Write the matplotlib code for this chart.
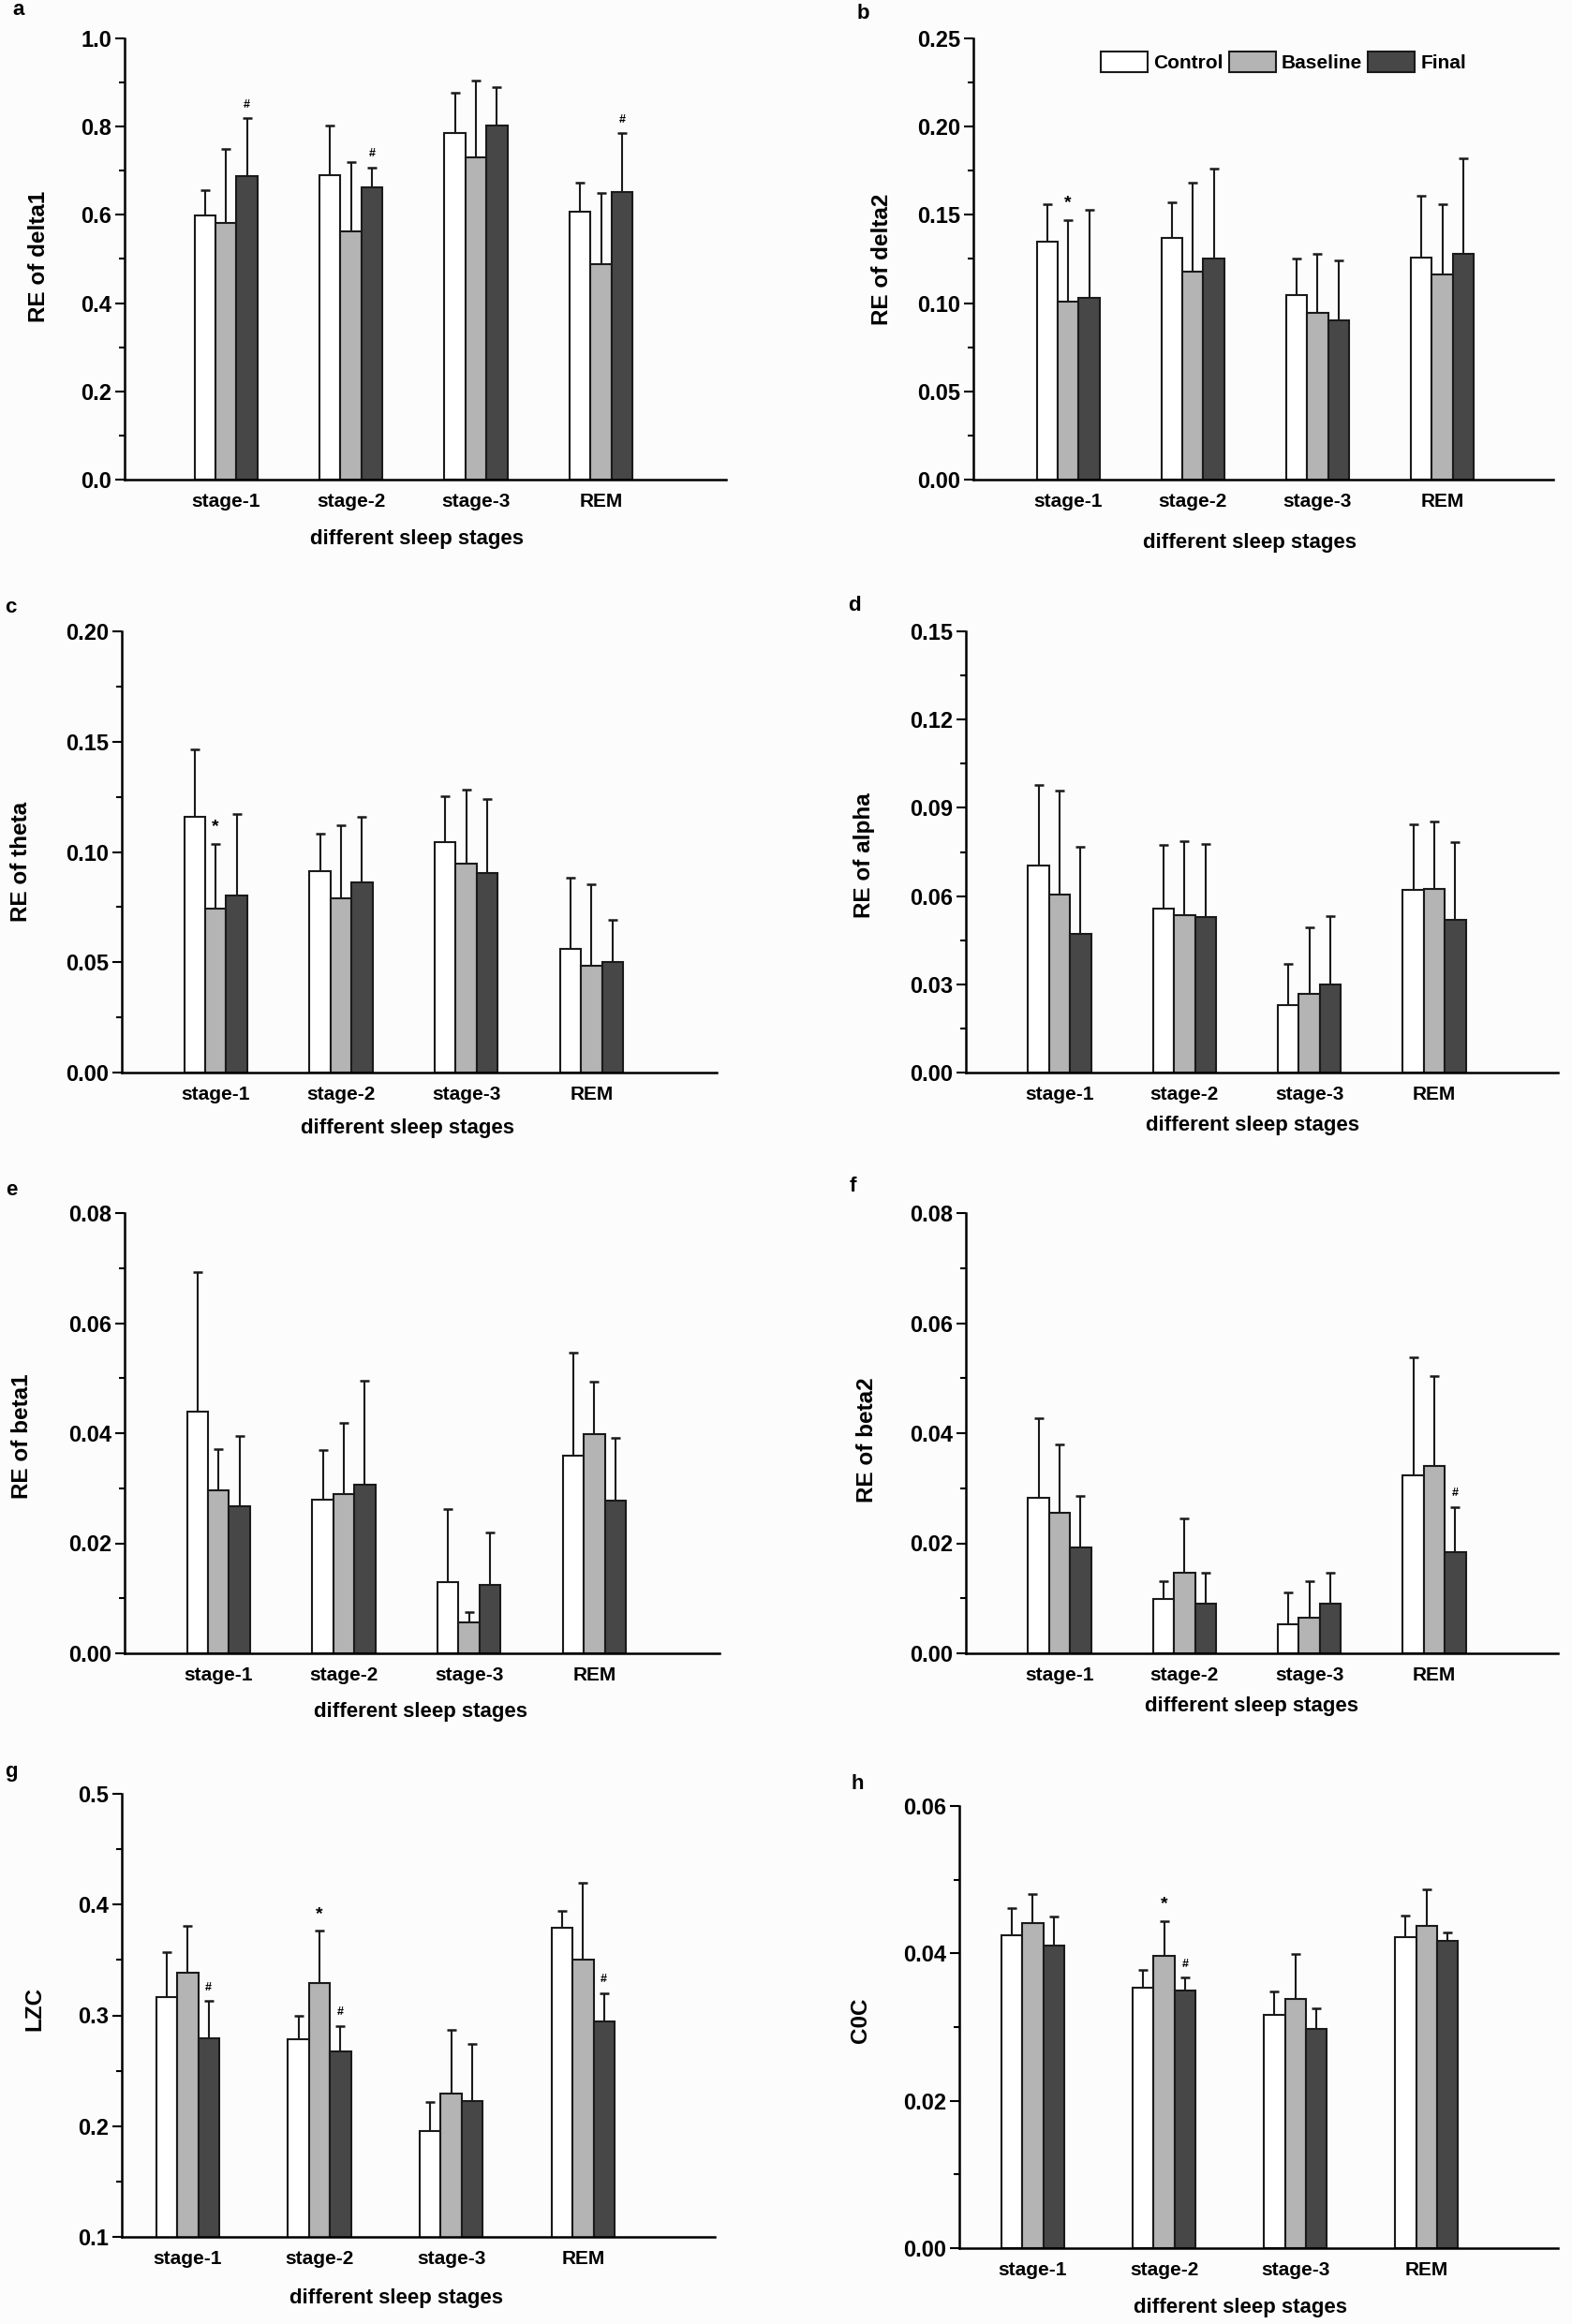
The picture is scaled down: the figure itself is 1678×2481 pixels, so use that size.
import numpy as np
import matplotlib
matplotlib.use("Agg")
import matplotlib.pyplot as plt
from matplotlib.ticker import MultipleLocator, FormatStrFormatter

plt.rcParams['font.family'] = ['Liberation Sans', 'DejaVu Sans']
plt.rcParams['font.weight'] = 'bold'

stages = ['stage-1', 'stage-2', 'stage-3', 'REM']
groups = ['Control', 'Baseline', 'Final']
colors = ['#ffffff', '#b4b4b4', '#474747']

# means / upper error (SD), rows = Control, Baseline, Final
delta1_mean = [[0.599, 0.689, 0.786, 0.608], [0.581, 0.563, 0.730, 0.489], [0.687, 0.663, 0.802, 0.652]]
delta1_err = [[0.057, 0.113, 0.090, 0.066], [0.168, 0.156, 0.174, 0.161], [0.132, 0.045, 0.087, 0.133]]

delta2_mean = [[0.135, 0.137, 0.1045, 0.126], [0.101, 0.118, 0.0945, 0.116], [0.103, 0.125, 0.090, 0.128]]
delta2_err = [[0.021, 0.020, 0.0205, 0.035], [0.046, 0.050, 0.0335, 0.040], [0.050, 0.051, 0.034, 0.054]]

theta_mean = [[0.116, 0.0915, 0.1046, 0.0559], [0.0742, 0.0788, 0.0947, 0.0482], [0.0801, 0.0860, 0.0903, 0.0502]]
theta_err = [[0.0306, 0.0168, 0.0208, 0.0326], [0.0296, 0.0332, 0.0334, 0.0371], [0.0371, 0.0300, 0.0336, 0.0190]]

alpha_mean = [[0.0705, 0.0557, 0.0230, 0.0620], [0.0605, 0.0535, 0.0268, 0.0625], [0.0471, 0.0530, 0.0300, 0.0519]]
alpha_err = [[0.0274, 0.0216, 0.0139, 0.0223], [0.0353, 0.0253, 0.0226, 0.0230], [0.0297, 0.0246, 0.0231, 0.0263]]

beta1_mean = [[0.0440, 0.0280, 0.0130, 0.0360], [0.0297, 0.0290, 0.0056, 0.0398], [0.0268, 0.0306, 0.0124, 0.0277]]
beta1_err = [[0.0253, 0.0090, 0.0132, 0.0187], [0.0074, 0.0129, 0.0019, 0.0095], [0.0127, 0.0190, 0.0095, 0.0114]]

beta2_mean = [[0.0283, 0.0098, 0.0052, 0.0324], [0.0255, 0.0147, 0.0065, 0.0341], [0.0193, 0.0091, 0.0091, 0.0184]]
beta2_err = [[0.0145, 0.0033, 0.0058, 0.0214], [0.0125, 0.0098, 0.0066, 0.0162], [0.0093, 0.0056, 0.0056, 0.0082]]

lzc_mean = [[0.3168, 0.2782, 0.1953, 0.3789], [0.3386, 0.3295, 0.2295, 0.3507], [0.2789, 0.2678, 0.2225, 0.2946]]
lzc_err = [[0.0399, 0.0215, 0.0262, 0.0154], [0.0419, 0.0467, 0.0571, 0.0688], [0.0342, 0.0228, 0.0513, 0.0255]]

c0c_mean = [[0.0425, 0.0353, 0.0316, 0.0422], [0.0441, 0.0396, 0.0338, 0.0437], [0.0411, 0.0349, 0.0298, 0.0417]]
c0c_err = [[0.0036, 0.0025, 0.0032, 0.0029], [0.0039, 0.0048, 0.0061, 0.0050], [0.0039, 0.0018, 0.0027, 0.0012]]

# significance marks: (stage index, group index, symbol)
delta1_marks = [(0, 2, '#'), (1, 2, '#'), (3, 2, '#')]
delta2_marks = [(0, 1, '*')]
theta_marks = [(0, 1, '*')]
beta2_marks = [(3, 2, '#')]
lzc_marks = [(0, 2, '#'), (1, 1, '*'), (1, 2, '#'), (3, 2, '#')]
c0c_marks = [(1, 1, '*'), (1, 2, '#')]

W, H = 1678, 2481
fig = plt.figure(figsize=(W / 100, H / 100), dpi=100)
fig.patch.set_facecolor('#fcfcfc')


def panel(rect, xlim, mean, err, ylim, major, minor, fmt, ylabel, letter, letter_xy,
          ylab_xy, xlab_xy, marks=(), legend=False):
    x0, y0, x1, y1 = rect
    ax = fig.add_axes([x0 / W, 1 - y1 / H, (x1 - x0) / W, (y1 - y0) / H])
    ax.set_facecolor('none')
    # bar width of about 22 px
    w = 22.4 * (xlim[1] - xlim[0]) / (x1 - x0)
    x = np.arange(1, 5)
    for i in range(3):
        m = np.array(mean[i])
        e = np.array(err[i])
        ax.bar(x + (i - 1) * w, m, w, color=colors[i], edgecolor='#1a1a1a', linewidth=1.5,
               label=groups[i], zorder=2)
        ax.errorbar(x + (i - 1) * w, m, yerr=[np.zeros(4), e], fmt='none', ecolor='#1a1a1a',
                    elinewidth=1.5, capsize=3.5, capthick=1.8, zorder=1)
    for s, g, sym in marks:
        top = mean[g][s] + err[g][s]
        ax.annotate(sym, (s + 1 + (g - 1) * w, top), xytext=(0, 6 if sym == '#' else 7),
                    textcoords='offset points', ha='center', va='bottom',
                    fontsize=9 if sym == '#' else 14, fontweight='bold')
    ax.set_xlim(xlim)
    ax.set_ylim(ylim)
    ax.yaxis.set_major_locator(MultipleLocator(major))
    ax.yaxis.set_minor_locator(MultipleLocator(minor))
    ax.yaxis.set_major_formatter(FormatStrFormatter(fmt))
    ax.set_xticks(x)
    ax.set_xticklabels(stages)
    ax.tick_params(axis='x', length=0, pad=10, labelsize=15)
    ax.tick_params(axis='y', which='major', length=7, width=1.5, labelsize=17, pad=3)
    ax.tick_params(axis='y', which='minor', length=4, width=1.5)
    for sp in ['top', 'right']:
        ax.spines[sp].set_visible(False)
    for sp in ['left', 'bottom']:
        ax.spines[sp].set_linewidth(1.8)
    fig.text(letter_xy[0] / W, 1 - letter_xy[1] / H, letter, fontsize=16, fontweight='bold',
             ha='left', va='center')
    fig.text(ylab_xy[0] / W, 1 - ylab_xy[1] / H, ylabel, fontsize=17.5, fontweight='bold',
             rotation=90, ha='center', va='center')
    fig.text(xlab_xy[0] / W, 1 - xlab_xy[1] / H, 'different sleep stages', fontsize=16,
             fontweight='bold', ha='center', va='center')
    if legend:
        ax.legend(loc='center', bbox_to_anchor=((1370 - x0) / (x1 - x0), (y1 - 66) / (y1 - y0)),
                  ncol=3, frameon=False, fontsize=15, handlelength=2.4, handleheight=1.2,
                  handletextpad=0.3, columnspacing=0.3, borderpad=0)
    return ax


panel((133, 41, 775, 512), (0.19, 5.0), delta1_mean, delta1_err, (0, 1.0), 0.2, 0.1, '%.1f',
      'RE of delta1', 'a', (13, 11), (41, 274), (445, 576), delta1_marks)
panel((1039, 41, 1658, 512), (0.24, 4.89), delta2_mean, delta2_err, (0, 0.25), 0.05, 0.025, '%.2f',
      'RE of delta2', 'b', (915, 15), (942, 277), (1334, 580), delta2_marks, legend=True)
panel((130, 674, 765, 1145), (0.25, 5.0), theta_mean, theta_err, (0, 0.20), 0.05, 0.025, '%.2f',
      'RE of theta', 'c', (5, 648), (23, 920), (435, 1205), theta_marks)
panel((1031, 674, 1663, 1145), (0.25, 4.99), alpha_mean, alpha_err, (0, 0.15), 0.03, 0.015, '%.2f',
      'RE of alpha', 'd', (905, 647), (923, 913), (1337, 1201))
panel((133, 1295, 768, 1765), (0.25, 5.0), beta1_mean, beta1_err, (0, 0.08), 0.02, 0.01, '%.2f',
      'RE of beta1', 'e', (6, 1270), (24, 1533), (449, 1828))
panel((1031, 1295, 1663, 1765), (0.25, 4.99), beta2_mean, beta2_err, (0, 0.08), 0.02, 0.01, '%.2f',
      'RE of beta2', 'f', (907, 1267), (926, 1537), (1336, 1822), beta2_marks)
panel((130, 1915, 763, 2388), (0.50, 5.0), lzc_mean, lzc_err, (0.1, 0.5), 0.1, 0.05, '%.1f',
      'LZC', 'g', (5, 1892), (37, 2144), (423, 2454), lzc_marks)
panel((1024, 1928, 1663, 2400), (0.44, 5.0), c0c_mean, c0c_err, (0, 0.06), 0.02, 0.01, '%.2f',
      'C0C', 'h', (908, 1904), (919, 2157), (1324, 2464), c0c_marks)

fig.savefig('out.png', dpi=100, facecolor=fig.get_facecolor())
